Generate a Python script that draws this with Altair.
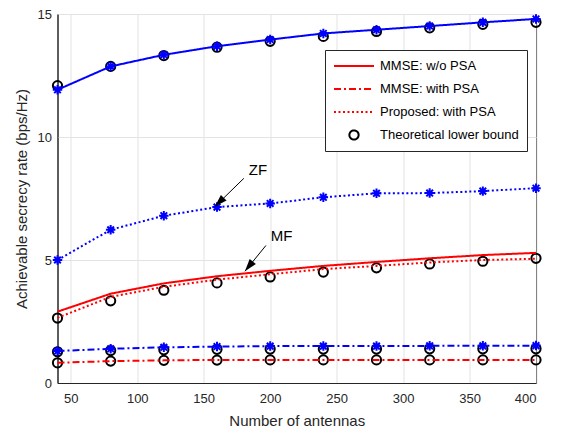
import altair as alt
import pandas as pd

FONT = "Liberation Sans"

antennas = [40, 80, 120, 160, 200, 240, 280, 320, 360, 400]

# ZF (blue) curves
zf_wo_psa = [11.92, 12.87, 13.34, 13.69, 13.96, 14.21, 14.36, 14.51, 14.66, 14.8]
zf_with_psa = [1.3, 1.39, 1.45, 1.48, 1.5, 1.5, 1.5, 1.51, 1.51, 1.52]
zf_proposed = [5.0, 6.23, 6.8, 7.15, 7.3, 7.55, 7.71, 7.72, 7.8, 7.92]
# MF (red) curves
mf_wo_psa = [2.9, 3.63, 4.05, 4.34, 4.56, 4.76, 4.92, 5.07, 5.2, 5.29]
mf_with_psa = [0.82, 0.89, 0.92, 0.94, 0.94, 0.94, 0.94, 0.94, 0.94, 0.94]
mf_proposed = [2.65, 3.5, 3.91, 4.2, 4.42, 4.63, 4.76, 4.9, 5.0, 5.05]
# theoretical lower bounds
lb_zf_wo = [12.09, 12.87, 13.31, 13.65, 13.89, 14.09, 14.29, 14.44, 14.58, 14.66]
lb_zf_with = [1.27, 1.32, 1.35, 1.37, 1.38, 1.38, 1.38, 1.39, 1.39, 1.39]
lb_mf_prop = [2.64, 3.34, 3.77, 4.07, 4.31, 4.51, 4.68, 4.84, 4.95, 5.07]
lb_mf_with = [0.82, 0.89, 0.92, 0.93, 0.94, 0.94, 0.94, 0.94, 0.94, 0.94]

legend_labels = ["MMSE: w/o PSA", "MMSE: with PSA", "Proposed: with PSA", "Theoretical lower bound"]

x_ticks = [50, 100, 150, 200, 250, 300, 350, 400]
y_ticks = [0, 5, 10, 15]

# annotations (data coordinates)
ann_text = ["ZF", "MF"]
ann_tx = [190.8, 208.6]
ann_ty = [8.67, 5.96]
arrow_x0 = [180.2, 196.8]
arrow_y0 = [8.32, 5.59]
arrow_x1 = [158.4, 181.0]
arrow_y1 = [7.17, 4.54]
arrow_angle = [225, 219]

series = [
    ("zf_wo", "ZF", legend_labels[0], zf_wo_psa),
    ("zf_with", "ZF", legend_labels[1], zf_with_psa),
    ("zf_prop", "ZF", legend_labels[2], zf_proposed),
    ("mf_wo", "MF", legend_labels[0], mf_wo_psa),
    ("mf_with", "MF", legend_labels[1], mf_with_psa),
    ("mf_prop", "MF", legend_labels[2], mf_proposed),
]
rows = []
for sid, scheme, style, vals in series:
    for xv, yv in zip(antennas, vals):
        rows.append({"x": xv, "y": yv, "series": sid, "scheme": scheme, "style": style})
lines_df = pd.DataFrame(rows)

lb_rows = []
for sid, vals in [("a", lb_zf_wo), ("b", lb_zf_with), ("c", lb_mf_prop), ("d", lb_mf_with)]:
    for xv, yv in zip(antennas, vals):
        lb_rows.append({"x": xv, "y": yv, "series": sid, "style": legend_labels[3]})
lb_df = pd.DataFrame(lb_rows)

ann_df = pd.DataFrame({"t": ann_text, "tx": ann_tx, "ty": ann_ty,
                       "x0": arrow_x0, "y0": arrow_y0, "x1": arrow_x1, "y1": arrow_y1,
                       "ang": arrow_angle})

xscale = alt.Scale(domain=[40, 400], nice=False, zero=False)
yscale = alt.Scale(domain=[0, 15], nice=False)

xenc = alt.X("x:Q", scale=xscale, axis=alt.Axis(values=x_ticks, title="Number of antennas",
                                                 labelPadding=9, titlePadding=8))
yenc = alt.Y("y:Q", scale=yscale, axis=alt.Axis(values=y_ticks, title="Achievable secrecy rate (bps/Hz)",
                                                 labelPadding=6, titlePadding=8))

ASTER = "M-1,0L1,0M0,-1L0,1M-0.7,-0.7L0.7,0.7M-0.7,0.7L0.7,-0.7"
HEAD = "M0,0L-0.4,1.25L0.4,1.25Z"
LINE_SYM = "M-1,0L1,0"
CIRC = "M0.23,0A0.23,0.23,0,1,1,-0.23,0A0.23,0.23,0,1,1,0.23,0Z"

IS_LB = "datum.value === 'Theoretical lower bound'"


def make_legend():
    return alt.Legend(title=None, orient="none", legendX=267.5, legendY=36,
                      symbolSize=1600, symbolStrokeWidth=2, clipHeight=16, rowPadding=7,
                      symbolStrokeColor=alt.ExprRef(expr=f"{IS_LB} ? 'black' : '#ff0000'"),
                      symbolFillColor="transparent", symbolOpacity=1,
                      labelFontSize=13, labelFont=FONT, labelColor="black",
                      labelOffset=5, padding=8, strokeColor="#262626",
                      fillColor="white")


circles = alt.Chart(lb_df).mark_point(filled=False, color="black",
                                      strokeWidth=2, size=1600, opacity=1).encode(
    x=xenc, y=yenc, detail="series:N",
    shape=alt.Shape("style:N", scale=alt.Scale(domain=legend_labels,
                                               range=[LINE_SYM, LINE_SYM, LINE_SYM, CIRC]),
                    legend=make_legend()))

lines = alt.Chart(lines_df).mark_line(strokeWidth=2).encode(
    x=xenc, y=yenc,
    color=alt.Color("scheme:N", scale=alt.Scale(domain=["ZF", "MF"], range=["#0000ff", "#ff0000"]),
                    legend=None),
    strokeDash=alt.StrokeDash("style:N",
                              scale=alt.Scale(domain=legend_labels,
                                              range=[[1, 0], [7, 3, 2, 3], [2, 2.5], [1, 0]]),
                              legend=make_legend()),
    detail="series:N",
)

markers = alt.Chart(lines_df).transform_filter(alt.datum.scheme == "ZF").mark_point(
    shape=ASTER, filled=False, color="#0000ff", strokeWidth=2, size=90, opacity=1).encode(
    x=xenc, y=yenc)

arrows = alt.Chart(ann_df).mark_rule(color="black", strokeWidth=1).encode(
    x="x0:Q", y="y0:Q", x2="x1:Q", y2="y1:Q")

heads = alt.Chart(ann_df).mark_point(shape=HEAD, filled=True, color="black", size=400, opacity=1).encode(
    x="x1:Q", y="y1:Q", angle=alt.Angle("ang:Q", scale=None))

texts = alt.Chart(ann_df).mark_text(font=FONT, fontSize=15, color="black").encode(
    x="tx:Q", y="ty:Q", text="t:N")

chart = alt.layer(circles, lines, markers, arrows, heads, texts).properties(
    width=478.5, height=369,
    autosize=alt.AutoSizeParams(type="none"),
    padding={"left": 49.5, "top": 6, "right": 15, "bottom": 45},
).configure_view(stroke="#262626", strokeWidth=1).configure_axis(
    labelFont=FONT, titleFont=FONT, labelFontSize=13, titleFontSize=15,
    labelColor="#262626", titleColor="#262626", domainColor="#262626",
    gridColor="#e3e3e3", tickSize=0, titleFontWeight="normal",
).configure_legend(cornerRadius=0)

chart.save("out.html", embed_options={"renderer": "svg", "actions": False})
